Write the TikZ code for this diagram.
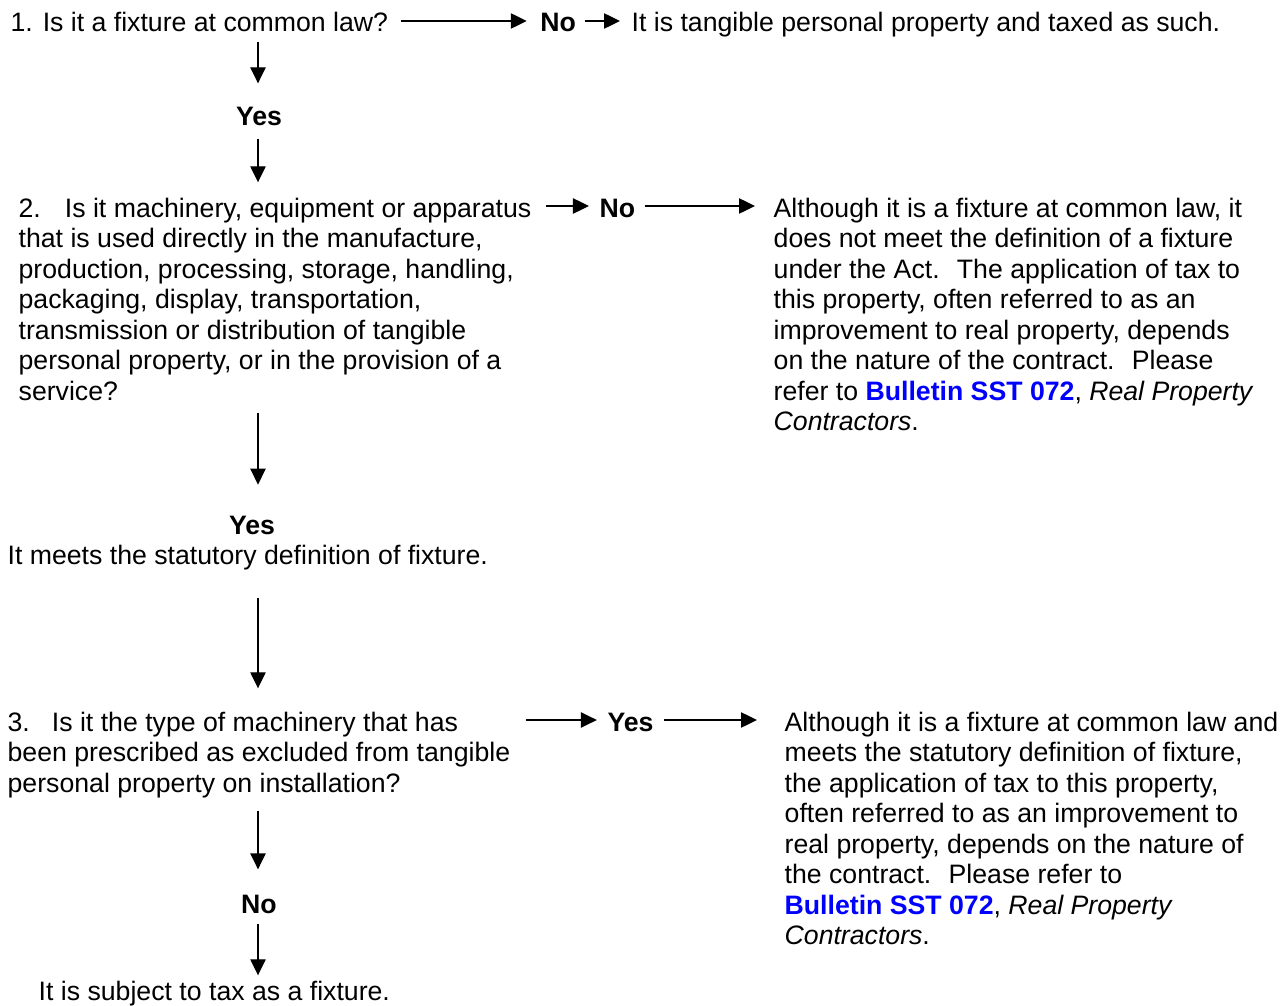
\documentclass[tikz,border=0pt]{standalone}
\usepackage{fontspec}
\setmainfont{Liberation Sans}
\usepackage{tikz}
\usetikzlibrary{arrows.meta,positioning}
\definecolor{linkblue}{RGB}{0,0,255}
\def\sst{{\color{linkblue}\textbf{Bulletin SST 072}}}
\def\rpc{\textit{Real Property}}

\begin{document}
\begin{tikzpicture}[x=0.75pt,y=-0.75pt,every path/.style={line width=1pt}]
  \tikzstyle{txt} = [inner sep=0pt,anchor=base west,font=\fontsize{20pt}{22.9pt}\selectfont];
  \tikzstyle{ans} = [txt,font=\fontsize{20pt}{22.9pt}\selectfont\bfseries,text height=16.5pt,text depth=0pt];
  \tikzset{go/.style={-{Triangle[length=12pt,width=11.5pt]}}};
  \useasboundingbox (0,0) rectangle (1286,1006);
  \coordinate (spine) at (258,0);
  % question 1
  \node[txt] (q1) at (10,32) {\strut 1. Is it a fixture at common law?};
  \node[ans,base right=113.25pt of q1] (no1) {No};
  \node[txt] (a1) at (631,32) {\strut It is tangible personal property and taxed as such.};
  \node[ans,anchor=base] (yes1) at (259,126) {Yes};
  % question 2
  \node[txt] (q2) at (18,217) {\begin{tabular}[t]{@{}l@{}}
    2.\hspace{18pt}Is it machinery, equipment or apparatus\\
    that is used directly in the manufacture,\\
    production, processing, storage, handling,\\
    packaging, display, transportation,\\
    transmission or distribution of tangible\\
    personal property, or in the provision of a\\
    service?\end{tabular}};
  \node[ans,base right=50.25pt of q2] (no2) {No};
  \node[txt] (a2) at (773,217) {\begin{tabular}[t]{@{}l@{}}
    Although it is a fixture at common law, it\\
    does not meet the definition of a fixture\\
    under the Act.~ The application of tax to\\
    this property, often referred to as an\\
    improvement to real property, depends\\
    on the nature of the contract.~ Please\\
    refer to \sst, \rpc\\
    \textit{Contractors}.\end{tabular}};
  \node[ans,anchor=base] (yes2) at (252,534) {Yes};
  \node[txt] (fix) at (7,564) {\strut It meets the statutory definition of fixture.};
  % question 3
  \node[txt] (q3) at (7,731) {\begin{tabular}[t]{@{}l@{}}
    3.\hspace{16.5pt}Is it the type of machinery that has\\
    been prescribed as excluded from tangible\\
    personal property on installation?\end{tabular}};
  \node[ans,base right=72pt of q3] (yes3) {Yes};
  \node[txt] (a3) at (784,731) {\begin{tabular}[t]{@{}l@{}}
    Although it is a fixture at common law and\\
    meets the statutory definition of fixture,\\
    the application of tax to this property,\\
    often referred to as an improvement to\\
    real property, depends on the nature of\\
    the contract.~ Please refer to\\
    \sst, \rpc\\
    \textit{Contractors}.\end{tabular}};
  \node[ans,anchor=base] (no3) at (259,913) {No};
  \node[txt] (fin) at (38,1000) {\strut It is subject to tax as a fixture.};
  % across
  \draw[go,shorten <=9pt,shorten >=9.75pt] (no1.west -| q1.east) -- (no1.west);
  \draw[go,shorten <=6pt,shorten >=8.25pt] (no1.east) -- (no1.east -| a1.west);
  \draw[go,shorten <=10.5pt,shorten >=7.5pt] (no2.west -| q2.east) -- (no2.west);
  \draw[go,shorten <=6.75pt,shorten >=13.5pt] (no2.east) -- (no2.east -| a2.west);
  \draw[go,shorten <=11.25pt,shorten >=7.5pt] (yes3.west -| q3.east) -- (yes3.west);
  \draw[go,shorten <=7.5pt,shorten >=20.25pt] (yes3.east) -- (yes3.east -| a3.west);
  % down
  \draw[go,shorten >=15pt] (spine |- q1.south) -- (spine |- yes1.north);
  \draw[go,shorten <=9pt,shorten >=9.5pt] (spine |- yes1.south) -- (spine |- q2.north);
  \draw[go,shorten <=2pt,shorten >=20pt] (spine |- q2.south) -- (spine |- yes2.north);
  \draw[go,shorten <=18.5pt,shorten >=15.5pt] (spine |- fix.south) -- (spine |- q3.north);
  \draw[go,shorten <=6.5pt,shorten >=15.75pt] (spine |- q3.south) -- (spine |- no3.north);
  \draw[go,shorten <=7.5pt,shorten >=2pt] (spine |- no3.south) -- (spine |- fin.north);
\end{tikzpicture}
\end{document}
